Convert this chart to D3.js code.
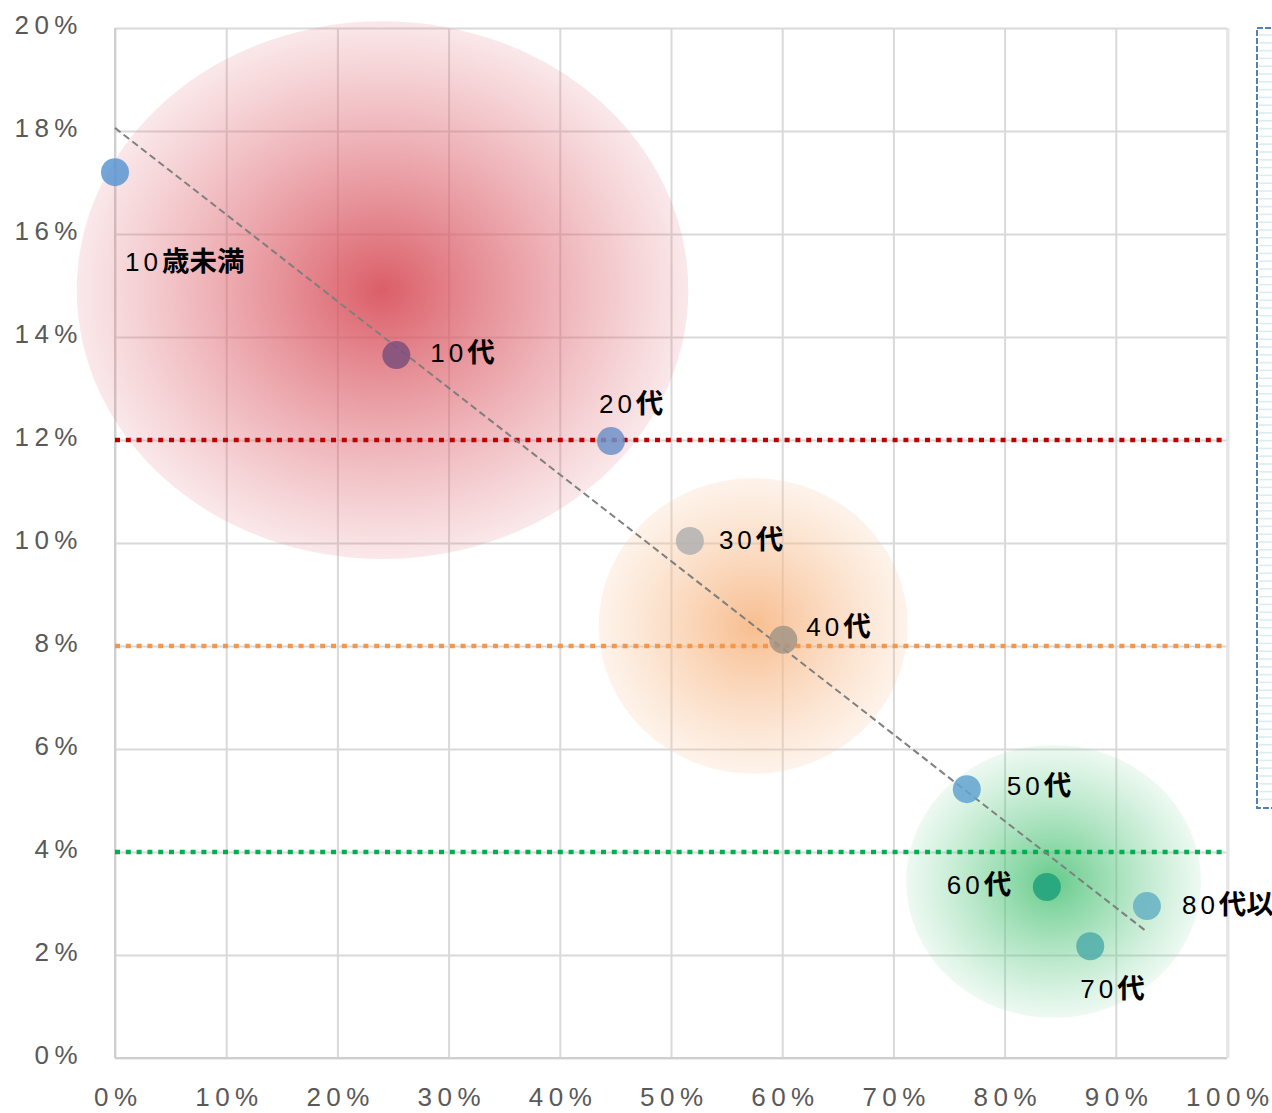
<!DOCTYPE html>
<html>
<head>
<meta charset="utf-8">
<script src="https://cdn.jsdelivr.net/npm/d3@7"></script>
<style>
  html, body { margin: 0; padding: 0; background: #fff; overflow: hidden; }
  svg { display: block; }
</style>
</head>
<body>
<div id="chart"></div>
<script>
// age groups and their (x %, y %) position
var ageGroups = ["10歳未満", "10代", "20代", "30代", "40代", "50代", "60代", "70代", "80代以上"];
var xShare = [0, 25.3, 44.6, 51.7, 60.1, 76.6, 83.8, 87.7, 92.8];
var yShare = [17.2, 13.65, 11.98, 10.04, 8.12, 5.22, 3.32, 2.17, 2.95];

// shaded zones (center and half sizes, in % units)
var zoneX = [24.06, 57.4, 84.4];
var zoneY = [14.91, 8.39, 3.43];
var zoneRx = [27.5, 13.9, 13.26];
var zoneRy = [5.22, 2.87, 2.65];

// reference levels
var levels = [12, 8, 4];

// trend line end points
var trendX = [0, 92.8];
var trendY = [18.06, 2.45];

var xTicks = [0, 10, 20, 30, 40, 50, 60, 70, 80, 90, 100];
var yTicks = [0, 2, 4, 6, 8, 10, 12, 14, 16, 18, 20];

var pointColors = ["#5b97d2", "#7d4f7c", "#6f92c8", "#b0b0b0", "#a39586", "#62a3d0", "#1fa17c", "#4fadaa", "#66b0c4"];
var zoneColors = [
  {c0: "#d8505b", o0: 0.92, c1: "#e0707a", o1: 0.16},
  {c0: "#f6b27c", o0: 0.85, c1: "#f8c49a", o1: 0.2},
  {c0: "#4cc276", o0: 0.85, c1: "#6fd092", o1: 0.12}
];
var levelColors = ["#c00000", "#f79646", "#00b050"];
// label placement relative to the point: [dx to text start, dy to text middle]
var labelOffsets = [[10, 89], [34, -2], [-12, -37], [29, -1], [23, -13], [40, -4], [-100, -2], [-10, 42], [35, -1]];

var W = 1272, H = 1113;
var svg = d3.select("#chart").append("svg").attr("width", W).attr("height", H);

var x = d3.scaleLinear().domain([0, 100]).range([115, 1227]);
var y = d3.scaleLinear().domain([0, 20]).range([1058, 28]);

var font = "'Liberation Sans', Arial, 'Noto Sans CJK JP', sans-serif";
var tickSpacing = 5.5;

// gradients
var defs = svg.append("defs");
zoneColors.forEach(function(zc, i) {
  var g = defs.append("radialGradient").attr("id", "zone" + i)
    .attr("cx", "50%").attr("cy", "50%").attr("r", "50%");
  g.append("stop").attr("offset", "0%").attr("stop-color", zc.c0).attr("stop-opacity", zc.o0);
  g.append("stop").attr("offset", "100%").attr("stop-color", zc.c1).attr("stop-opacity", zc.o1);
});

// gridlines
svg.append("g")
  .attr("class", "grid")
  .attr("transform", "translate(0," + y(0) + ")")
  .call(d3.axisBottom(x).tickValues(xTicks).tickSize(-(y(0) - y(20))).tickFormat(""))
  .call(function(g) { g.select(".domain").remove(); })
  .selectAll("line").attr("stroke", "#d9d9d9").attr("stroke-width", 2);

svg.append("g")
  .attr("class", "grid")
  .attr("transform", "translate(" + x(0) + ",0)")
  .call(d3.axisLeft(y).tickValues(yTicks).tickSize(-(x(100) - x(0))).tickFormat(""))
  .call(function(g) { g.select(".domain").remove(); })
  .selectAll("line").attr("stroke", "#d9d9d9").attr("stroke-width", 2);

// bottom/left axis lines slightly darker
svg.append("line").attr("x1", x(0)).attr("x2", x(100)).attr("y1", y(0)).attr("y2", y(0))
  .attr("stroke", "#cfcfcf").attr("stroke-width", 2);
svg.append("line").attr("x1", x(0)).attr("x2", x(0)).attr("y1", y(0)).attr("y2", y(20))
  .attr("stroke", "#cfcfcf").attr("stroke-width", 2);
svg.append("line").attr("x1", x(100) + 1).attr("x2", x(100) + 1).attr("y1", y(0)).attr("y2", y(20))
  .attr("stroke", "#e6e6e6").attr("stroke-width", 3);

// zones
svg.append("g").selectAll("ellipse")
  .data(zoneX)
  .enter().append("ellipse")
  .attr("cx", function(d) { return x(d); })
  .attr("cy", function(d, i) { return y(zoneY[i]); })
  .attr("rx", function(d, i) { return x(zoneRx[i]) - x(0); })
  .attr("ry", function(d, i) { return y(0) - y(zoneRy[i]); })
  .attr("fill", function(d, i) { return "url(#zone" + i + ")"; });

// reference levels
svg.append("g").selectAll("line")
  .data(levels)
  .enter().append("line")
  .attr("x1", x(0)).attr("x2", x(100))
  .attr("y1", function(d) { return y(d); })
  .attr("y2", function(d) { return y(d); })
  .attr("stroke", function(d, i) { return levelColors[i]; })
  .attr("stroke-width", 4.6)
  .attr("stroke-dasharray", "5,5.8");

// trend line
svg.append("line")
  .attr("x1", x(trendX[0])).attr("y1", y(trendY[0]))
  .attr("x2", x(trendX[1])).attr("y2", y(trendY[1]))
  .attr("stroke", "#7f7f7f").attr("stroke-width", 2)
  .attr("stroke-dasharray", "7,4");

// points
svg.append("g").selectAll("circle")
  .data(ageGroups)
  .enter().append("circle")
  .attr("cx", function(d, i) { return x(xShare[i]); })
  .attr("cy", function(d, i) { return y(yShare[i]); })
  .attr("r", 14)
  .attr("fill", function(d, i) { return pointColors[i]; })
  .attr("fill-opacity", 0.85);

// point labels
var labels = svg.append("g").selectAll("text")
  .data(ageGroups)
  .enter().append("text")
  .attr("x", function(d, i) { return x(xShare[i]) + labelOffsets[i][0]; })
  .attr("y", function(d, i) { return y(yShare[i]) + labelOffsets[i][1]; })
  .attr("dy", "0.36em")
  .attr("font-family", font)
  .attr("font-size", 26)
  .attr("letter-spacing", 4)
  .attr("fill", "#000");

labels.append("tspan")
  .text(function(d) { return d.match(/^\d+/)[0]; });
labels.append("tspan")
  .attr("font-family", "'Noto Sans CJK JP', sans-serif")
  .attr("font-weight", "bold")
  .attr("letter-spacing", 0)
  .attr("font-size", 27.5)
  .text(function(d) { return d.replace(/^\d+/, ""); });

// axis labels
svg.append("g")
  .attr("transform", "translate(" + x(0) + ",0)")
  .call(d3.axisLeft(y).tickValues(yTicks).tickSize(0).tickPadding(32).tickFormat(function(d) { return d + "%"; }))
  .call(function(g) { g.select(".domain").remove(); })
  .selectAll("text")
  .attr("font-family", font).attr("font-size", 26).attr("fill", "#595959")
  .attr("letter-spacing", tickSpacing).attr("dy", "0.22em");

svg.append("g")
  .attr("transform", "translate(0," + y(0) + ")")
  .call(d3.axisBottom(x).tickValues(xTicks).tickSize(0).tickPadding(30).tickFormat(function(d) { return d + "%"; }))
  .call(function(g) { g.select(".domain").remove(); })
  .selectAll("text")
  .attr("font-family", font).attr("font-size", 26).attr("fill", "#595959")
  .attr("letter-spacing", tickSpacing).attr("dx", tickSpacing / 2);

// clipped legend box on the right
var box = svg.append("g");
box.selectAll("line.row")
  .data(d3.range(35, 806, 7.8))
  .enter().append("line")
  .attr("class", "row")
  .attr("x1", 1259).attr("x2", W)
  .attr("y1", function(d) { return d; }).attr("y2", function(d) { return d; })
  .attr("stroke", "#daedf3").attr("stroke-width", 1.6);
box.append("rect")
  .attr("x", 1257).attr("y", 28).attr("width", 60).attr("height", 780)
  .attr("fill", "none").attr("stroke", "#4f81bd").attr("stroke-width", 2)
  .attr("stroke-dasharray", "6,2");
</script>
</body>
</html>
